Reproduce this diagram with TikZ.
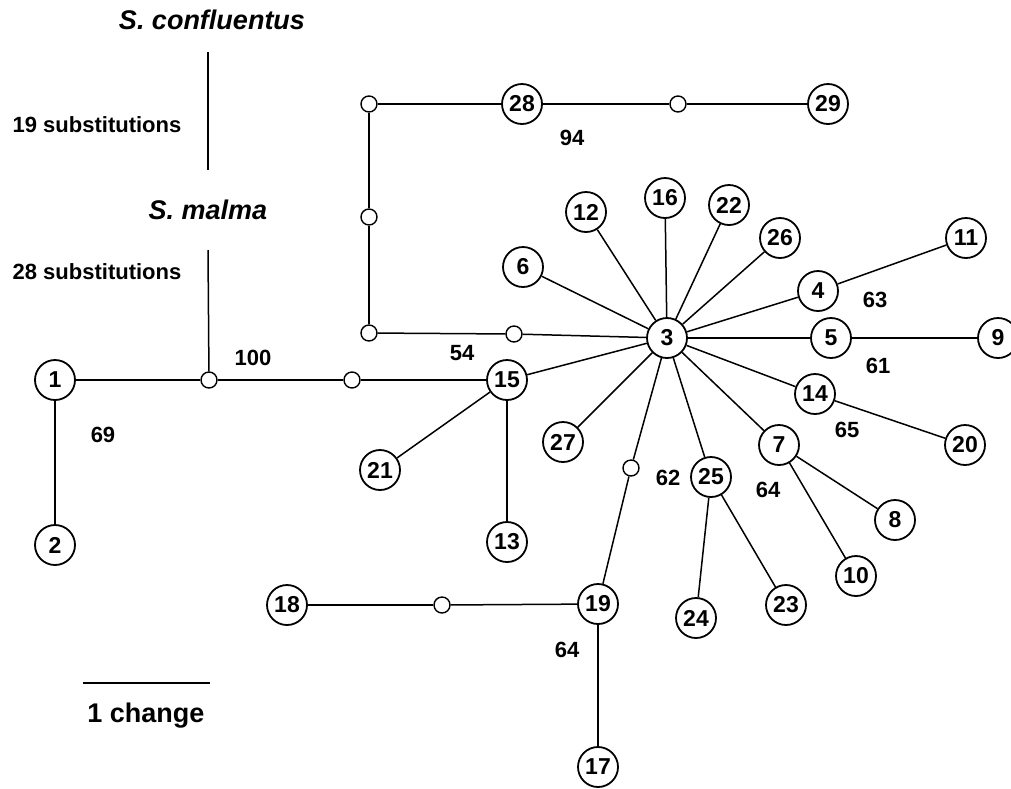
\documentclass[tikz,border=0pt]{standalone}
\usepackage{fontspec}
\setmainfont{Liberation Sans}
\usetikzlibrary{positioning}

\tikzset{
  hap/.style={circle,draw,line width=0.9pt,minimum size=20pt,inner sep=0pt,
    font=\fontsize{11.5}{13}\selectfont\bfseries},
  med/.style={circle,draw,line width=0.7pt,minimum size=8pt,inner sep=0pt},
  lab/.style={font=\fontsize{11}{13}\selectfont\bfseries},
  spec/.style={font=\fontsize{13.5}{16}\selectfont\bfseries\itshape}
}

\begin{document}
\begin{tikzpicture}[x=0.5pt,y=-0.5pt,line width=0.75pt]
\useasboundingbox (0,0) rectangle (1011,788);
% haplotypes
\foreach \n/\x/\y in {1/55/380,2/55/545,3/667/338,4/818/291,5/831/338,6/523/267,
  7/779/445,8/895/520,9/998/338,10/856/576,11/966/238,12/586/212,13/507/542,
  14/815/394,15/507/380,16/665/198,17/598/767,18/287/605,19/598/604,20/965/445,
  21/380/470,22/729/205,23/786/605,24/696/618,25/711/477,26/780/238,27/563/442,
  28/522/104,29/828/104}
  \node[hap] (n\n) at (\x,\y) {\n};
% missing intermediates
\foreach \m/\x/\y in {a/209/380,b/352/380,c/514/334,d/369/333,e/369/217,f/369/104,
  g/678/104,h/631/468,i/442/605}
  \node[med] (m\m) at (\x,\y) {};
% connections
\foreach \p/\q in {n1/n2,n1/ma,ma/mb,mb/n15,n15/n3,n15/n21,n15/n13,n3/n27,
  n3/mc,mc/md,md/me,me/mf,mf/n28,n28/mg,mg/n29,n3/n6,n3/n12,n3/n16,n3/n22,
  n3/n26,n3/n4,n4/n11,n3/n5,n5/n9,n3/n14,n14/n20,n3/n7,n7/n8,n7/n10,n3/n25,
  n25/n24,n25/n23,n3/mh,mh/n19,n19/mi,mi/n18,n19/n17}
  \draw (\p) -- (\q);
% outgroups
\node[spec] (conf) at (212,20) {S. confluentus};
\node[spec] (malma) at (208,210) {S. malma};
\coordinate (ctop) at (208,52);
\coordinate (cbot) at (208,170);
\coordinate (mtop) at (208,250);
\draw (ctop) -- (cbot);
\draw (mtop) -- (ma);
\node[lab] (sub19) at (97,125) {19 substitutions};
\node[lab] (sub28) at (97,272) {28 substitutions};
% bootstrap values
\node[lab] (b100) at (253,358) {100};
\node[lab] (b54) at (462,353) {54};
\node[lab] (b69) at (103,435) {69};
\node[lab] (b94) at (572,138) {94};
\node[lab] (b63) at (875,300) {63};
\node[lab] (b61) at (878,366) {61};
\node[lab] (b65) at (847,430) {65};
\node[lab] (b64a) at (768,490) {64};
\node[lab] (b62) at (668,478) {62};
\node[lab] (b64b) at (567,650) {64};
% scale bar
\coordinate (sl) at (83,683);
\coordinate (sr) at (210,683);
\draw (sl) -- (sr);
\node[font=\fontsize{13.5}{15}\selectfont\bfseries] (chg) at (146,716) {1 change};
\end{tikzpicture}
\end{document}
